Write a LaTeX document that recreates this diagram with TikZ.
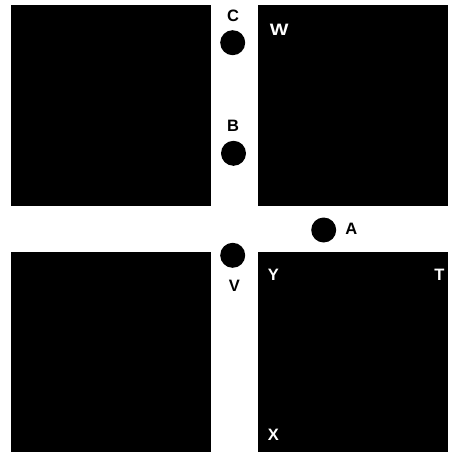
\documentclass[tikz,border=0pt]{standalone}
\usepackage{fontspec}
\setmainfont{Liberation Sans}
\usepackage{tikz,xcolor}
\usetikzlibrary{calc}

\tikzset{
  dot/.style={circle,fill=black,inner sep=0pt,minimum size=25pt},
  lab/.style={inner sep=0pt,font=\fontsize{16.5}{16.5}\selectfont\bfseries},
  wlab/.style={lab,text=white}
}

\begin{document}
\begin{tikzpicture}[x=1pt,y=-1pt]
 \useasboundingbox (0,0) rectangle (448,452);
 % blocks
 \fill (11,5) rectangle (211,205.7);
 \fill (257.7,5) rectangle (448,205.7);
 \fill (11,252.3) rectangle (211,452);
 \fill (257.7,252.3) rectangle (448,452);
 % points
 \node[dot] (c) at (232.7,42.7) {};
 \node[dot] (b) at (233.5,153.3) {};
 \node[dot] (a) at (323.7,230) {};
 \node[dot] (v) at (232.7,255.3) {};
 \node[lab] (lc) at (233,16) {C};
 \node[lab] (lb) at (233,125.5) {B};
 \node[lab] (la) at (351.3,228.8) {A};
 \node[lab] (lv) at (234.3,286) {V};
 \node[wlab] (lw) at (279.3,29.5) {\scalebox{1.2}[1]{W}};
 \node[wlab] (ly) at (273.3,275) {Y};
 \node[wlab] (lt) at (439.3,274.5) {T};
 \node[wlab] (lx) at (273.3,435) {X};
\end{tikzpicture}
\end{document}
